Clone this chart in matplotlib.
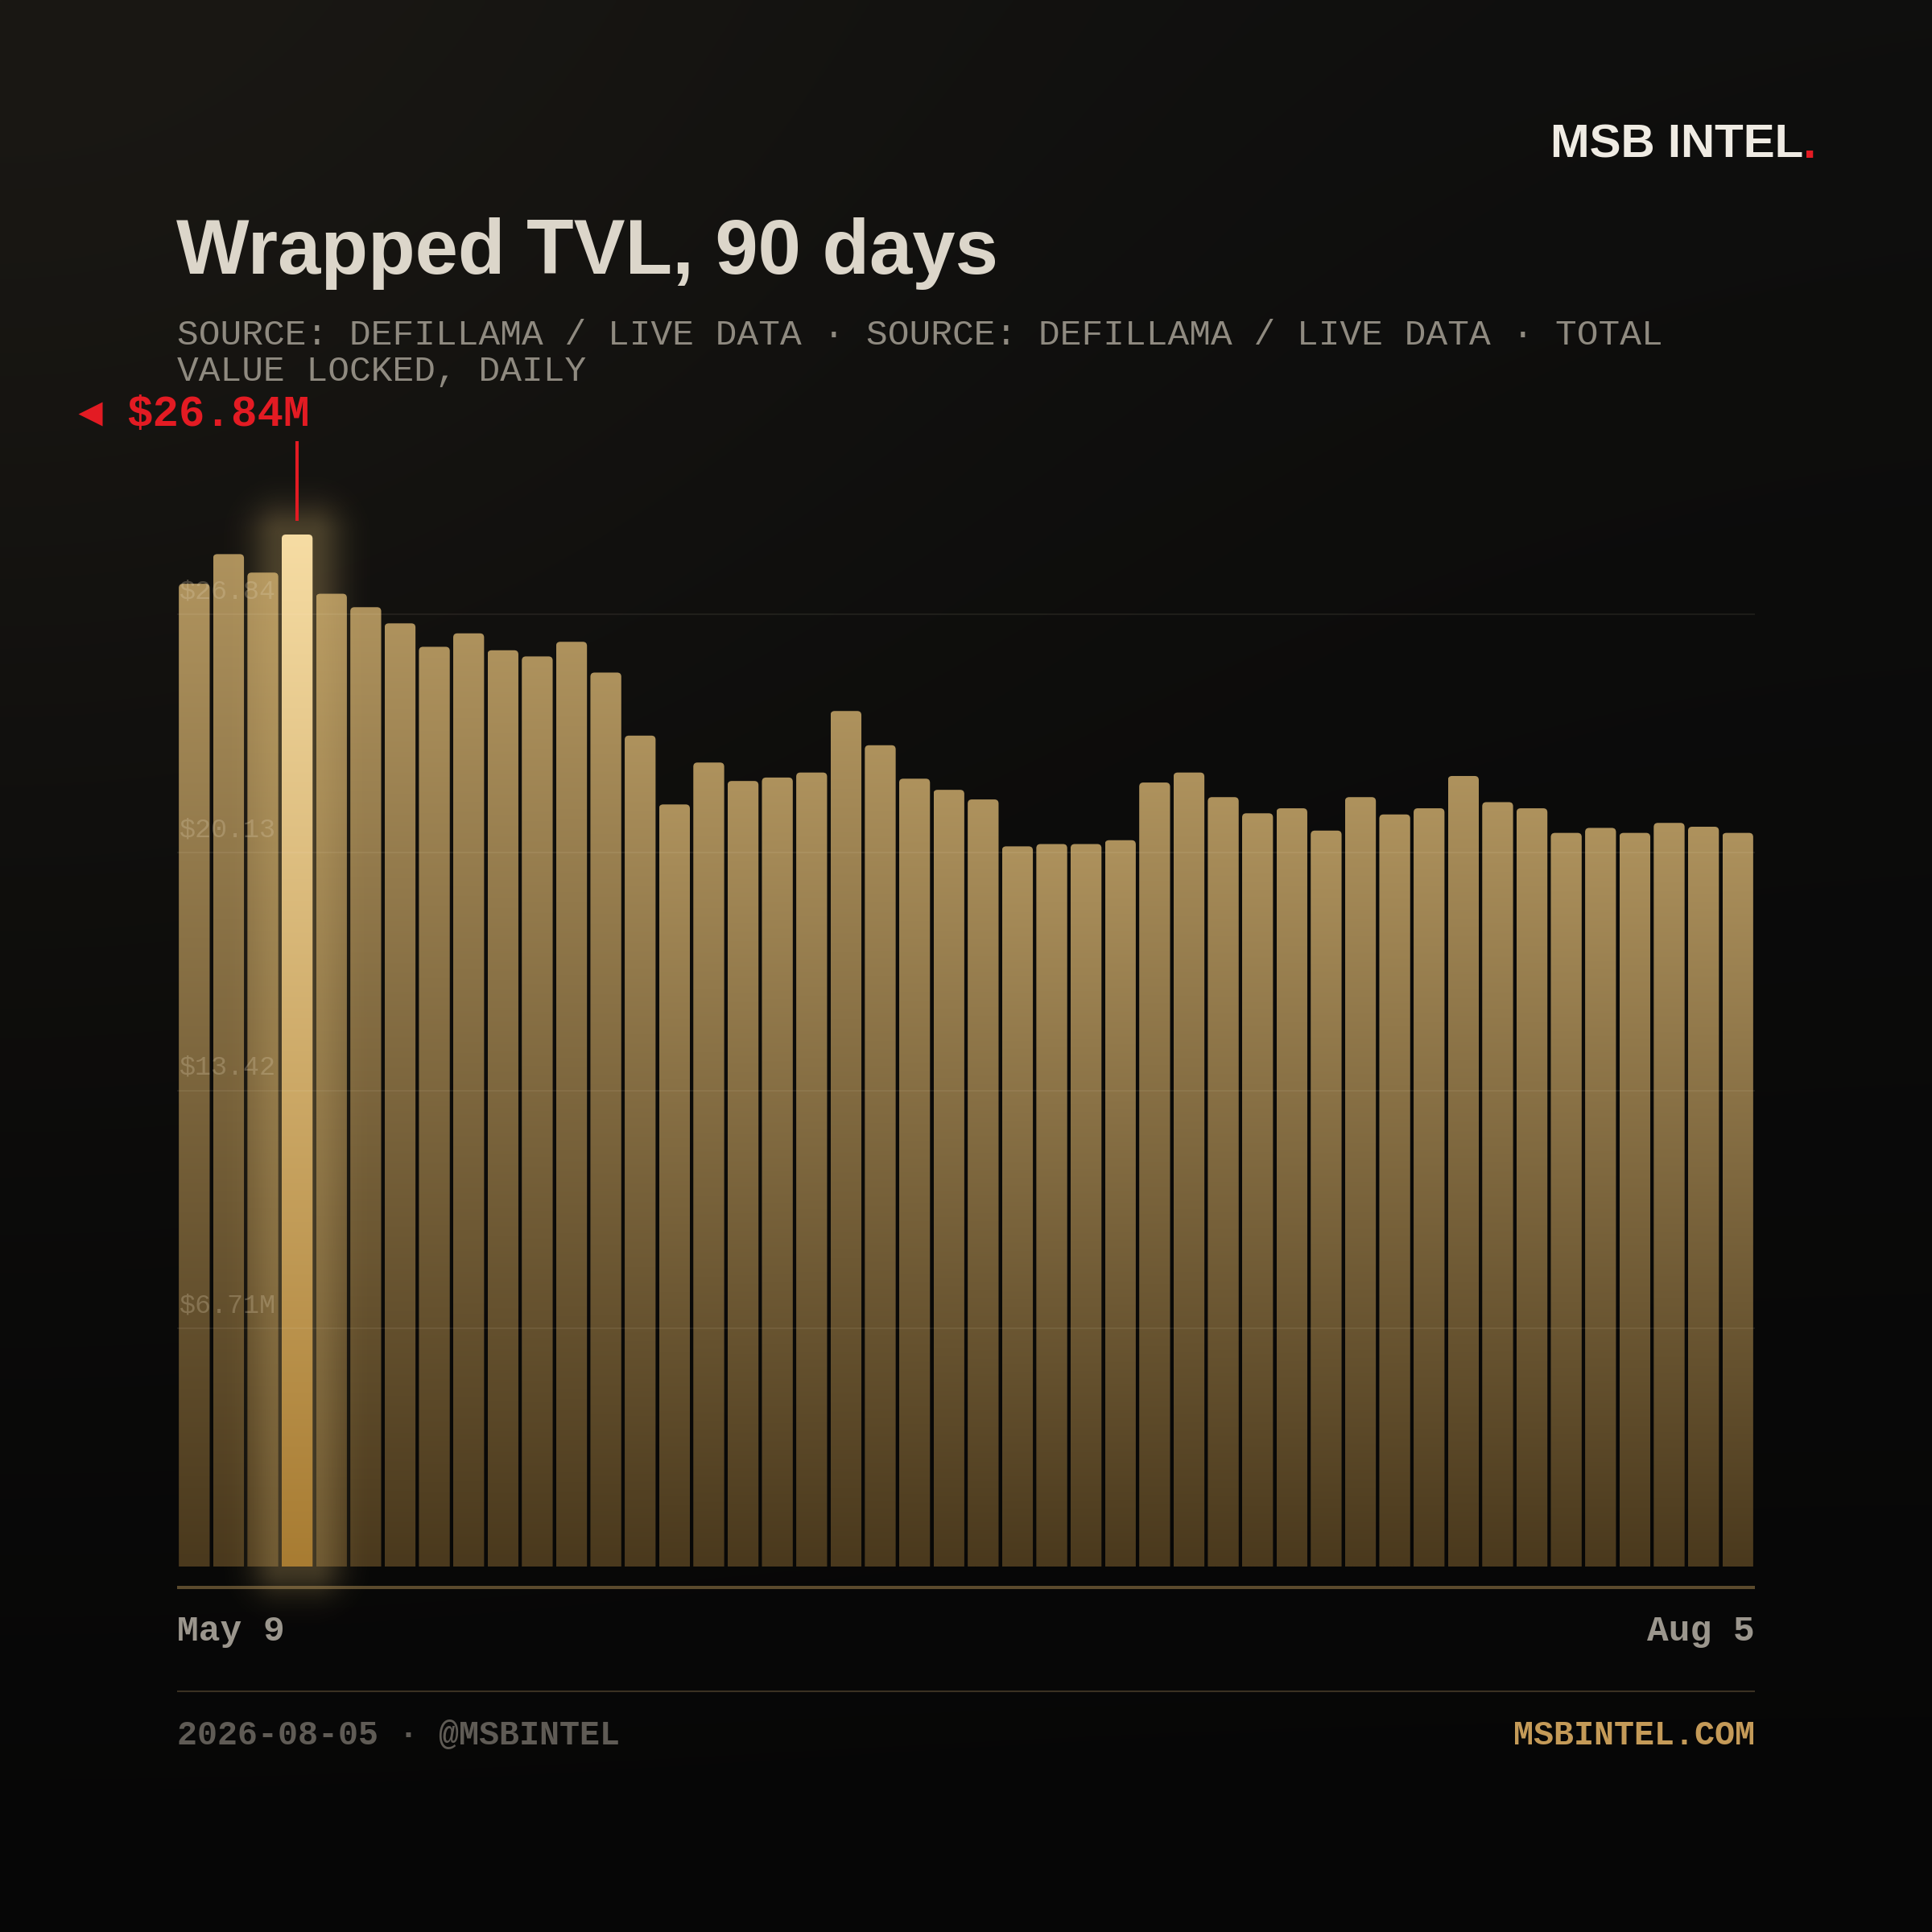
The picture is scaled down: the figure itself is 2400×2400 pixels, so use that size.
import numpy as np
import matplotlib
matplotlib.use("Agg")
import matplotlib.pyplot as plt
from matplotlib.patches import FancyBboxPatch
from matplotlib.transforms import offset_copy
from matplotlib.colors import to_rgb

# wrapped TVL in $M, one bar every second day (May 9 -> Aug 5)
tvl = [25.56, 26.33, 25.85, 26.84, 25.30, 24.95, 24.53, 23.92, 24.27, 23.83,
       23.67, 24.05, 23.25, 21.61, 19.82, 20.91, 20.43, 20.52, 20.65, 22.25,
       21.36, 20.49, 20.20, 19.95, 18.73, 18.79, 18.79, 18.89, 20.39, 20.65,
       20.01, 19.59, 19.72, 19.14, 20.01, 19.56, 19.72, 20.56, 19.88, 19.72,
       19.08, 19.21, 19.08, 19.34, 19.24, 19.08]
peak_idx = 3
peak_label = "$26.84M"
grid_vals = [6.19, 12.38, 18.57, 24.76]
grid_labels = ["$6.71M", "$13.42", "$20.13", "$26.84"]
x_labels = ["May 9", "Aug 5"]

title = "Wrapped TVL, 90 days"
subtitle = ["SOURCE: DEFILLAMA / LIVE DATA \u00b7 SOURCE: DEFILLAMA / LIVE DATA \u00b7 TOTAL",
            "VALUE LOCKED, DAILY"]
footer_left = "2026-08-05 \u00b7 @MSBINTEL"
footer_right = "MSBINTEL.COM"

W = H = 2400
SANS = "Liberation Sans"
MONO = "Liberation Mono"
RED = "#e31b23"

fig = plt.figure(figsize=(24, 24), dpi=100)

# background
bg = fig.add_axes([0, 0, 1, 1], zorder=-10)
bg.set_xlim(0, W)
bg.set_ylim(0, H)
bg.axis("off")
yy, xx = np.mgrid[0:1:400j, 0:1:400j]
base = np.array(to_rgb("#0f0f0e")) * (1 - yy[..., None]) + np.array(to_rgb("#060606")) * yy[..., None]
r = np.hypot(xx, yy)
warm = np.array([0x0b, 0x09, 0x06]) / 255 * np.exp(-(r / 0.5) ** 2)[..., None]
bg.imshow(np.clip(base + warm, 0, 1), extent=(0, W, 0, H), origin="upper",
          aspect="auto", interpolation="bilinear")

def fy(px):
    return 1 - px / H

# main bar axes
ax = fig.add_axes([220 / W, fy(1946), 1960 / W, 1346 / H])
ax.patch.set_alpha(0)
ax.set_xlim(-0.5, len(tvl) - 0.5)
ax.set_ylim(0, 28.18)
ax.axis("off")

sx = 1960 / len(tvl)
sy = 1282 / tvl[peak_idx]

top_c, bot_c = np.array(to_rgb("#ae925d")), np.array(to_rgb("#4a391d"))
htop_c, hbot_c = np.array(to_rgb("#f6dca3")), np.array(to_rgb("#a87c32"))
g = np.linspace(0, 1, 256)[:, None]

for i, v in enumerate(tvl):
    hl = i == peak_idx
    t, b = (htop_c, hbot_c) if hl else (top_c, bot_c)
    patch = FancyBboxPatch((i - 0.45, -2), 0.9, v + 2,
                           boxstyle="round,pad=0,rounding_size=0.12",
                           mutation_aspect=sx / sy,
                           facecolor="none", edgecolor="none")
    ax.add_patch(patch)
    cols = (t * (1 - g) + b * g).reshape(256, 1, 3)
    im = ax.imshow(cols, extent=(i - 0.45, i + 0.45, 0, v), origin="upper",
                   aspect="auto", interpolation="bilinear", zorder=4 if hl else 2)
    im.set_clip_path(patch)

# glow around the peak bar
v = tvl[peak_idx]
gx = np.linspace(peak_idx - 3, peak_idx + 3, 300)
gy = np.linspace(-1.6, v + 3, 700)
X, Y = np.meshgrid(gx, gy)
dx = np.maximum(np.abs(X - peak_idx) - 0.45, 0) * sx
dy = (np.maximum(Y - v, 0) + np.maximum(-Y, 0)) * sy
d = np.hypot(dx, dy)
glow = np.zeros(X.shape + (4,))
glow[..., :3] = to_rgb("#d9b872")
glow[..., 3] = 0.28 * np.exp(-(d / 38) ** 2)
ax.imshow(glow, extent=(gx[0], gx[-1], gy[0], gy[-1]), origin="lower",
          aspect="auto", interpolation="bilinear", zorder=3, clip_on=False)
ax.set_xlim(-0.5, len(tvl) - 0.5)
ax.set_ylim(0, 28.18)

# grid + labels
for gv, gl in zip(grid_vals, grid_labels):
    ax.axhline(gv, color="#fff2d8", alpha=0.07, lw=1.5, zorder=5)
    ax.text(-0.5, gv, gl, transform=offset_copy(ax.transData, fig=fig, x=3, y=20, units="dots"),
            family=MONO, fontsize=24, color="#e0d0b0", alpha=0.28, va="baseline", zorder=6)

# peak marker
ax.plot([peak_idx, peak_idx], [v + 17 / sy, v + 116 / sy], color=RED, lw=2.9,
        clip_on=False, zorder=6, solid_capstyle="butt")
bg.plot([111.5], [H - 513.5], marker="<", ms=22, color=RED, mec="none")
fig.text(157 / W, fy(529), peak_label, family=MONO, weight="bold", fontsize=39,
         color=RED, va="baseline")

# axis + separator lines
bg.plot([220, 2180], [H - 1972] * 2, color="#5b4a2d", lw=2.9, solid_capstyle="butt")
bg.plot([220, 2180], [H - 2101] * 2, color="#3a3122", lw=1.5, solid_capstyle="butt")

# x labels
fig.text(220 / W, fy(2038), x_labels[0], family=MONO, weight="bold", fontsize=32,
         color="#9b968d", va="baseline", ha="left")
fig.text(2180 / W, fy(2038), x_labels[1], family=MONO, weight="bold", fontsize=32,
         color="#9b968d", va="baseline", ha="right")

# footer
fig.text(220 / W, fy(2167), footer_left, family=MONO, weight="bold", fontsize=30,
         color="#5f5b55", va="baseline", ha="left")
fig.text(2180 / W, fy(2167), footer_right, family=MONO, weight="bold", fontsize=30,
         color="#c49a58", va="baseline", ha="right")

# title + subtitle
fig.text(219 / W, fy(340), title, family=SANS, weight="bold", fontsize=69,
         color="#dcd6ca", va="baseline")
fig.text(220 / W, fy(428), subtitle[0], family=MONO, fontsize=32, color="#8f8a80", va="baseline")
fig.text(220 / W, fy(473), subtitle[1], family=MONO, fontsize=32, color="#8f8a80", va="baseline")

# logo
logo = fig.text(1926 / W, fy(196), "MSB INTEL", family=SANS, weight="bold", fontsize=42,
                color="#efebe3", va="baseline")
renderer = fig.canvas.get_renderer()
bb = logo.get_window_extent(renderer)
fig.text(bb.x1 / W, fy(196), ".", family=SANS, weight="bold", fontsize=42,
         color=RED, va="baseline")

fig.savefig("out.png", dpi=100, facecolor="#0a0a0a")
